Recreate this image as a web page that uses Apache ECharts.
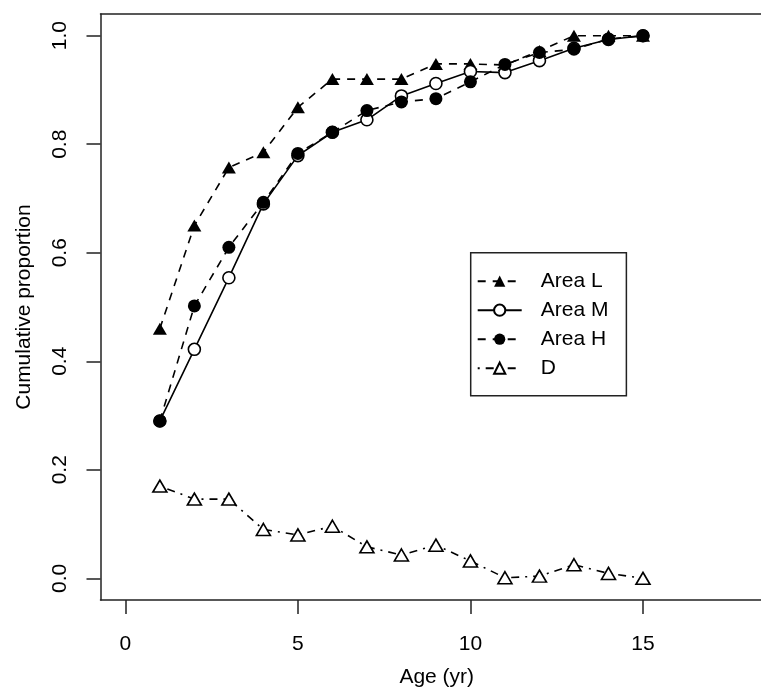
<!DOCTYPE html>
<html>
<head>
<meta charset="utf-8">
<script src="https://cdn.jsdelivr.net/npm/echarts@6/dist/echarts.min.js"></script>
<style>
  html, body { margin: 0; padding: 0; background: #fff; }
  #chart { width: 761px; height: 688px; }
</style>
</head>
<body>
<div id="chart"></div>
<script>
// values
const ages = [1, 2, 3, 4, 5, 6, 7, 8, 9, 10, 11, 12, 13, 14, 15]
const areaL = [0.46, 0.65, 0.757, 0.785, 0.868, 0.92, 0.92, 0.92, 0.948, 0.948, 0.946, 0.972, 1.0, 1.0, 1.0]
const areaM = [0.29, 0.422, 0.554, 0.69, 0.779, 0.822, 0.845, 0.889, 0.912, 0.934, 0.932, 0.954, 0.977, 0.993, 1.0]
const areaH = [0.29, 0.502, 0.61, 0.693, 0.783, 0.822, 0.862, 0.878, 0.884, 0.915, 0.947, 0.969, 0.975, 0.994, 1.0]
const dValues = [0.17, 0.146, 0.146, 0.09, 0.08, 0.096, 0.058, 0.043, 0.061, 0.032, 0.001, 0.004, 0.025, 0.009, 0.0]
const xTicks = [0, 5, 10, 15]
const yTicks = [0, 0.2, 0.4, 0.6, 0.8, 1.0]

const pairs = vals => ages.map((a, i) => [a, vals[i]])
const font = 'Liberation Sans, Arial, Helvetica, sans-serif'
const ink = '#222'

let myChart = echarts.init(document.getElementById('chart'), null, { renderer: 'canvas' })

// the original plot box runs past the right edge of the picture
const xMin = -0.72
const xMax = 18.42

const options = {
  animation: false,
  backgroundColor: '#fff',
  textStyle: { fontFamily: font, color: '#000' },
  grid: {
    left: 100.5,
    right: 0,
    top: 14,
    bottom: 88,
    outerBoundsMode: 'none'
  },
  legend: {
    orient: 'vertical',
    left: 470.7,
    top: 252.7,
    padding: [18, 18, 17, 6],
    itemGap: 8,
    itemWidth: 44,
    itemHeight: 14,
    borderColor: ink,
    borderWidth: 1.5,
    textStyle: { fontSize: 21, color: '#000', fontFamily: font, lineHeight: 20, padding: [0, 0, 0, 14] },
    data: ['Area L', 'Area M', 'Area H', 'D']
  },
  xAxis: [
    {
      type: 'value',
      min: xMin,
      max: xMax,
      name: 'Age (yr)',
      nameLocation: 'middle',
      nameGap: 67,
      nameTextStyle: { fontSize: 21, color: '#000', fontFamily: font, padding: [0, 0, 0, 12] },
      splitLine: { show: false },
      axisLine: { show: true, onZero: false, lineStyle: { color: ink, width: 1.5 } },
      axisTick: { show: true, length: 14, customValues: xTicks, lineStyle: { color: ink, width: 1.5 } },
      axisLabel: { show: true, margin: 34, fontSize: 21, color: '#000', fontFamily: font, customValues: xTicks }
    },
    {
      type: 'value',
      position: 'top',
      min: xMin,
      max: xMax,
      splitLine: { show: false },
      axisLine: { show: true, onZero: false, lineStyle: { color: ink, width: 1.5 } },
      axisTick: { show: false },
      axisLabel: { show: false }
    }
  ],
  yAxis: {
    type: 'value',
    min: -0.04,
    max: 1.04,
    name: 'Cumulative proportion',
    nameLocation: 'middle',
    nameGap: 66,
    nameTextStyle: { fontSize: 21, color: '#000', fontFamily: font },
    splitLine: { show: false },
    axisLine: { show: true, onZero: false, lineStyle: { color: ink, width: 1.5 } },
    axisTick: { show: true, length: 14, customValues: yTicks, lineStyle: { color: ink, width: 1.5 } },
    axisLabel: {
      show: true,
      rotate: 90,
      margin: 30,
      fontSize: 21,
      color: '#000',
      fontFamily: font,
      customValues: yTicks,
      formatter: v => v.toFixed(1)
    }
  },
  series: [
    {
      name: 'Area L',
      type: 'line',
      data: pairs(areaL),
      symbol: 'triangle',
      symbolSize: [14, 12],
      itemStyle: { color: '#000', borderColor: '#000', borderWidth: 0 },
      lineStyle: { color: '#000', width: 1.6, type: [8, 7] }
    },
    {
      name: 'Area M',
      type: 'line',
      data: pairs(areaM),
      symbol: 'circle',
      symbolSize: 12,
      showAllSymbol: true,
      itemStyle: { color: '#fff', borderColor: '#000', borderWidth: 1.6 },
      lineStyle: { color: '#000', width: 1.6, type: 'solid' }
    },
    {
      name: 'Area H',
      type: 'line',
      data: pairs(areaH),
      symbol: 'circle',
      symbolSize: 13,
      itemStyle: { color: '#000', borderColor: '#000', borderWidth: 0 },
      lineStyle: { color: '#000', width: 1.6, type: [8, 7] }
    },
    {
      name: 'D',
      type: 'line',
      data: pairs(dValues),
      symbol: 'triangle',
      symbolSize: [14, 12],
      itemStyle: { color: '#fff', borderColor: '#000', borderWidth: 1.6 },
      lineStyle: { color: '#000', width: 1.6, type: [2, 6, 8, 6] }
    }
  ]
}
myChart.setOption(options)
</script>
</body>
</html>
